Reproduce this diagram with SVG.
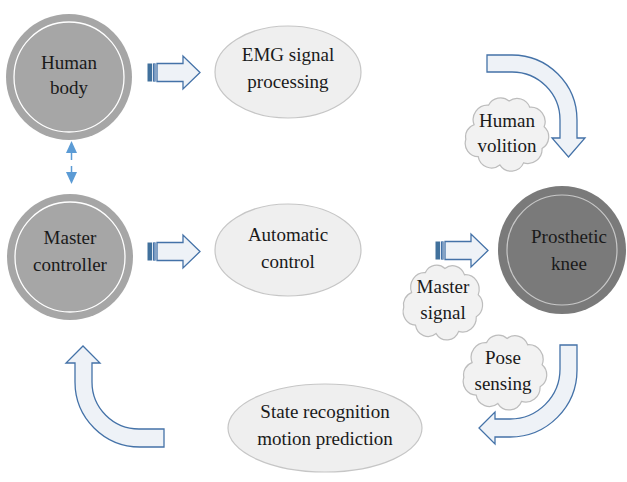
<svg xmlns="http://www.w3.org/2000/svg" xmlns:xlink="http://www.w3.org/1999/xlink" width="627" height="482" viewBox="0 0 627 482" font-family="'Liberation Serif', 'Times New Roman', 'DejaVu Serif', serif">
<style>
text{font-family:'Liberation Serif','Times New Roman','DejaVu Serif',serif;font-size:19px;fill:#1a1a1a;text-anchor:middle}
.ell{fill:#efefef;stroke:#c6c6c6;stroke-width:1.2}
.cloud{fill:#f2f2f2;stroke:#bdbdbd;stroke-width:1.2}
.hol{fill:#eef2f7;stroke:#4472a8;stroke-width:1.3;stroke-linejoin:miter}
.bar{fill:#41719c;stroke:#41719c;stroke-width:1}
.light{fill:#a6a6a6}
.dark{fill:#7a7a7a}
.ring{fill:none;stroke:#ffffff;stroke-width:1.3}
.ring2{fill:none;stroke:#c8c8c8;stroke-width:1.2}
</style>
<defs>
<path id="cloudshape" d="M-30,-8 A14,14 0 0 1 -16,-27 A13,13 0 0 1 4,-31 A13,13 0 0 1 24,-25 A14,14 0 0 1 38,-6 A13,13 0 0 1 36,15 A14,14 0 0 1 18,29 A13,13 0 0 1 -5,31 A13,13 0 0 1 -26,23 A13,13 0 0 1 -38,6 A12,12 0 0 1 -30,-8 Z"/>
<g id="striped">
<rect x="0" y="-8" width="3.5" height="17" class="bar"/>
<rect x="5.5" y="-8" width="1.5" height="17" class="hol"/>
<path class="hol" d="M9,-8.5 H35 V-16 L52,0.5 L35,17 V9.5 H9 Z"/>
</g>
</defs>

<g id="connectors">
<use xlink:href="#striped" href="#striped" transform="translate(148,72)"/>
<use xlink:href="#striped" href="#striped" transform="translate(148,251)"/>
<use xlink:href="#striped" href="#striped" transform="translate(436,250)"/>
<path class="hol" d="M487,55 H512 A65,65 0 0 1 577,120 V138 H585 L568.5,157 L552,138 H560 V120 A48,48 0 0 0 512,72 H487 Z"/>
<path class="hol" d="M560,345 H577 V370 A67,67 0 0 1 510,437 H495 V444 L479,428 L495,412 V419 H510 A50,50 0 0 0 560,369 Z"/>
<path class="hol" d="M164,429 V447 H140 A65,65 0 0 1 75,382 V363 H66 L83,346 L100,363 H92 V382 A47,47 0 0 0 139,429 Z"/>
<g id="bidir">
<polygon points="71.5,141 66,153 77,153" fill="#5b9bd5"/>
<polygon points="71.5,184 66,172 77,172" fill="#5b9bd5"/>
<line x1="71.5" y1="153" x2="71.5" y2="172" stroke="#5b9bd5" stroke-width="1.5" stroke-dasharray="7,6"/>
</g>
</g>

<g id="human-body">
<circle cx="69" cy="77" r="63" class="light"/>
<circle cx="69" cy="77" r="55" class="ring"/>
<text x="69" y="69">Human</text>
<text x="69" y="94">body</text>
</g>

<g id="emg">
<ellipse cx="288" cy="72" rx="73" ry="46" class="ell"/>
<text x="288" y="61">EMG signal</text>
<text x="288" y="88">processing</text>
</g>

<g id="human-volition">
<use xlink:href="#cloudshape" href="#cloudshape" class="cloud" transform="translate(505,133) scale(1.03,1.03)"/>
<text x="507" y="127">Human</text>
<text x="507" y="152">volition</text>
</g>

<g id="master-controller">
<circle cx="70" cy="257" r="63" class="light"/>
<circle cx="70" cy="257" r="55" class="ring"/>
<text x="70" y="244">Master</text>
<text x="70" y="271">controller</text>
</g>

<g id="automatic-control">
<ellipse cx="288" cy="250" rx="73" ry="46" class="ell"/>
<text x="288" y="241">Automatic</text>
<text x="288" y="268">control</text>
</g>

<g id="prosthetic-knee">
<circle cx="562" cy="250" r="64" class="dark"/>
<circle cx="562" cy="250" r="55" class="ring2"/>
<text x="569" y="243">Prosthetic</text>
<text x="569" y="270">knee</text>
</g>

<g id="master-signal">
<use xlink:href="#cloudshape" href="#cloudshape" class="cloud" transform="translate(441,301) scale(0.98,1.05)"/>
<text x="443" y="293">Master</text>
<text x="443" y="319">signal</text>
</g>

<g id="pose-sensing">
<use xlink:href="#cloudshape" href="#cloudshape" class="cloud" transform="translate(503,371) scale(1.03,1.05)"/>
<text x="503" y="364">Pose</text>
<text x="503" y="390">sensing</text>
</g>

<g id="state-recognition">
<ellipse cx="325" cy="428" rx="97" ry="44" class="ell"/>
<text x="325" y="418">State recognition</text>
<text x="325" y="445">motion prediction</text>
</g>
</svg>
